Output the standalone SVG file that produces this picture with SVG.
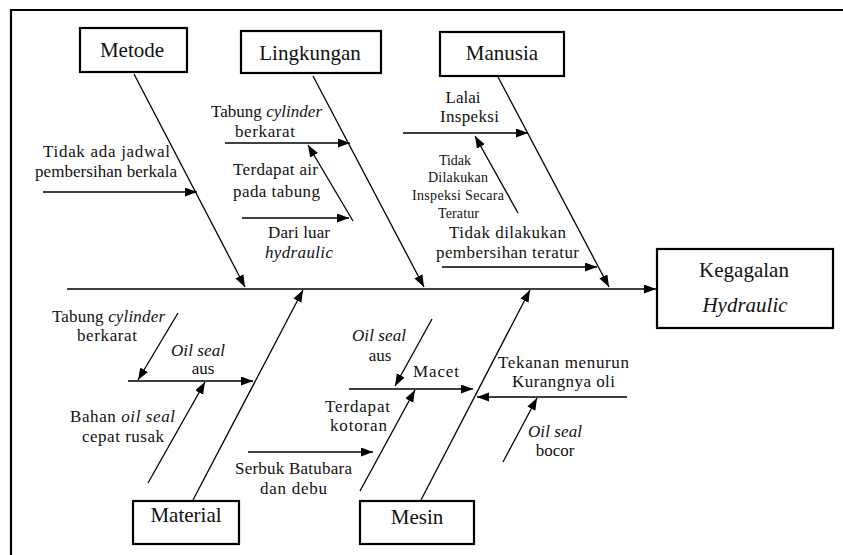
<svg xmlns="http://www.w3.org/2000/svg" width="843" height="555" viewBox="0 0 843 555" font-family="'Liberation Serif', 'Times New Roman', 'DejaVu Serif', serif">
  <defs>
    <marker id="arrow" markerUnits="userSpaceOnUse" markerWidth="13" markerHeight="10" refX="12" refY="4.5" orient="auto">
      <path d="M0,0 L12,4.5 L0,9 z" fill="#000"/>
    </marker>
    <style>
      .frame { fill: none; stroke: #000; stroke-width: 2.2; }
      .box { fill: #fff; stroke: #000; stroke-width: 2.2; }
      .arr { fill: none; stroke: #000; stroke-width: 1.3; marker-end: url(#arrow); }
      .t { font-family: 'Liberation Serif', 'Times New Roman', 'DejaVu Serif', serif; fill: #111; }
      .head { font-size: 21px; text-anchor: middle; }
      .lbl { font-size: 17px; }
      .sm { font-size: 14px; }
      .it { font-style: italic; }
    </style>
  </defs>

  <rect width="843" height="555" fill="#fff"/>
  <!-- page frame: top and left rules -->
  <path class="frame" d="M11,555 V10 H843"/>

  <!-- connectors: spine, category bones and cause arrows -->
  <g id="connectors">
    <line class="arr" x1="67" y1="289" x2="656" y2="289"/>
    <line class="arr" x1="134" y1="74" x2="245" y2="287"/>
    <line class="arr" x1="313" y1="76" x2="424" y2="287"/>
    <line class="arr" x1="498" y1="77" x2="609" y2="287"/>
    <line class="arr" x1="193" y1="500" x2="303" y2="290"/>
    <line class="arr" x1="421" y1="500" x2="530" y2="290"/>

    <line class="arr" x1="43" y1="192" x2="197" y2="192"/>
    <line class="arr" x1="225" y1="143" x2="350" y2="143"/>
    <line class="arr" x1="353" y1="221" x2="308" y2="145"/>
    <line class="arr" x1="242" y1="218" x2="349" y2="218"/>

    <line class="arr" x1="403" y1="133" x2="528" y2="133"/>
    <line class="arr" x1="518" y1="213" x2="475" y2="136"/>
    <line class="arr" x1="442" y1="267" x2="597" y2="267"/>

    <line class="arr" x1="128" y1="381" x2="253" y2="381"/>
    <line class="arr" x1="178" y1="313" x2="138" y2="380"/>
    <line class="arr" x1="148" y1="483" x2="205" y2="382"/>

    <line class="arr" x1="349" y1="389" x2="473" y2="389"/>
    <line class="arr" x1="432" y1="319" x2="395" y2="386"/>
    <line class="arr" x1="360" y1="491" x2="415" y2="390"/>
    <line class="arr" x1="248" y1="452" x2="373" y2="452"/>
    <line class="arr" x1="627" y1="397" x2="477" y2="397"/>
    <line class="arr" x1="503" y1="462" x2="537" y2="398"/>
  </g>

  <!-- category and effect boxes -->
  <g id="metode">
    <rect class="box" x="80" y="28" width="107" height="44"/>
    <text class="t head" x="132" y="57">Metode</text>
  </g>
  <g id="lingkungan">
    <rect class="box" x="241" y="31" width="140" height="42"/>
    <text class="t head" x="310" y="60">Lingkungan</text>
  </g>
  <g id="manusia">
    <rect class="box" x="440" y="32" width="124" height="44"/>
    <text class="t head" x="502" y="60">Manusia</text>
  </g>
  <g id="kegagalan">
    <rect class="box" x="657" y="249" width="176" height="79"/>
    <text class="t head" x="744" y="277">Kegagalan</text>
    <text class="t head it" x="745" y="312">Hydraulic</text>
  </g>
  <g id="material">
    <rect class="box" x="133" y="501" width="106" height="43"/>
    <text class="t head" x="186" y="522">Material</text>
  </g>
  <g id="mesin">
    <rect class="box" x="360" y="501" width="114" height="43"/>
    <text class="t head" x="417" y="524">Mesin</text>
  </g>

  <!-- cause labels -->
  <g id="causes">
    <text class="t lbl" x="43" y="157" textLength="127">Tidak ada jadwal</text>
    <text class="t lbl" x="35" y="177" textLength="142">pembersihan berkala</text>

    <text class="t lbl" x="211" y="117" textLength="111">Tabung <tspan class="it">cylinder</tspan></text>
    <text class="t lbl" x="235" y="137" textLength="60">berkarat</text>
    <text class="t lbl" x="233" y="175" textLength="85">Terdapat air</text>
    <text class="t lbl" x="233" y="197" textLength="87">pada tabung</text>
    <text class="t lbl" x="268" y="238" textLength="62">Dari luar</text>
    <text class="t lbl it" x="265" y="258" textLength="68">hydraulic</text>

    <text class="t lbl" x="463" y="103" text-anchor="middle">Lalai</text>
    <text class="t lbl" x="440" y="122" textLength="59">Inspeksi</text>
    <text class="t sm" x="455" y="165" text-anchor="middle">Tidak</text>
    <text class="t sm" x="428" y="182" textLength="60">Dilakukan</text>
    <text class="t sm" x="412" y="200" textLength="92">Inspeksi Secara</text>
    <text class="t sm" x="438" y="218" textLength="41">Teratur</text>
    <text class="t lbl" x="449" y="238" textLength="117">Tidak dilakukan</text>
    <text class="t lbl" x="436" y="258" textLength="143">pembersihan teratur</text>

    <text class="t lbl" x="52" y="322" textLength="113">Tabung <tspan class="it">cylinder</tspan></text>
    <text class="t lbl" x="77" y="341" textLength="60">berkarat</text>
    <text class="t lbl it" x="171" y="356" textLength="54">Oil seal</text>
    <text class="t lbl" x="203" y="374" text-anchor="middle">aus</text>
    <text class="t lbl" x="70" y="422" textLength="105">Bahan <tspan class="it">oil seal</tspan></text>
    <text class="t lbl" x="82" y="442" textLength="82">cepat rusak</text>

    <text class="t lbl it" x="352" y="341" textLength="54">Oil seal</text>
    <text class="t lbl" x="380" y="361" text-anchor="middle">aus</text>
    <text class="t lbl" x="413" y="377" textLength="46">Macet</text>
    <text class="t lbl" x="325" y="412" textLength="65">Terdapat</text>
    <text class="t lbl" x="330" y="431" textLength="57">kotoran</text>
    <text class="t lbl" x="235" y="474" textLength="117">Serbuk Batubara</text>
    <text class="t lbl" x="260" y="494" textLength="67">dan debu</text>
    <text class="t lbl" x="498" y="368" textLength="131">Tekanan menurun</text>
    <text class="t lbl" x="512" y="387" textLength="103">Kurangnya oli</text>
    <text class="t lbl it" x="528" y="437" textLength="54">Oil seal</text>
    <text class="t lbl" x="555" y="456" text-anchor="middle">bocor</text>
  </g>
</svg>
